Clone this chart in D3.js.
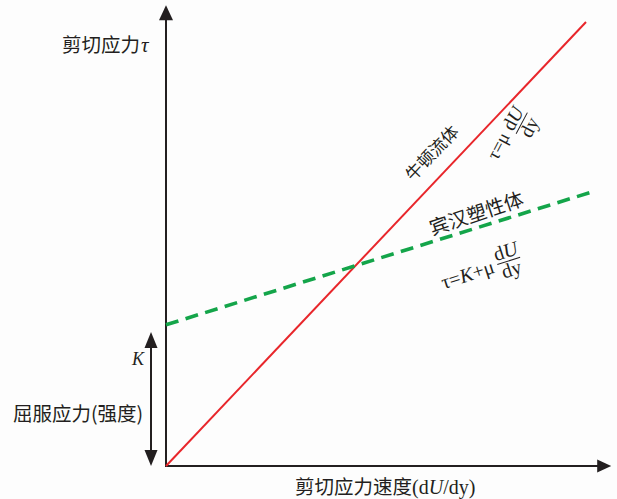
<!DOCTYPE html>
<html><head><meta charset="utf-8">
<script src="https://cdn.jsdelivr.net/npm/d3@7"></script>
<style>body{margin:0;background:#fdfdfd} svg{display:block}</style>
</head><body><svg id="c" width="617" height="499"></svg>
<script>
// ---- data ----
const newtonX = [0, 10];
const newtonY = [0, 10];
const binghamX = [0, 10.2];
const binghamY = [3.18, 6.19];
const yieldRange = [0, 3.02];
const axisMaxX = 10.6;
const axisMaxY = 10.38;
const yLabel = ["剪切应力", "τ"];
const xLabel = ["剪切应力速度", "(d", "U", "/dy)"];
const yieldLabel = "屈服应力(强度)";
const kLabel = "K";
const newtonLabel = "牛顿流体";
const binghamLabel = "宾汉塑性体";
const newtonFormula = ["τ=μ"];
const binghamFormula = ["τ=", "K", "+μ"];
const fracNum = ["d", "U"];
const fracDen = "dy";
// annotation anchors (data coords)
const newtonLabelAt = [6.31, 7.07];
const newtonFormulaAt = [8.47, 7.72];
const binghamLabelAt = [7.38, 5.72];
const binghamFormulaAt = [8.16, 4.62];

const CJK = "'Noto Sans CJK SC','Noto Sans CJK JP',sans-serif";
const SERIF = "'Liberation Serif','DejaVu Serif',serif";
const INK = "#231f20";

const svg = d3.select("#c");
const x = d3.scaleLinear().domain([0, 10]).range([166, 586]);
const y = d3.scaleLinear().domain([0, 10]).range([466, 22]);

svg.append("rect").attr("width", 617).attr("height", 499).attr("fill", "#fdfdfd");

// ---- axes ----
const x0 = x(0), y0 = y(0);
const yTop = y(axisMaxY), xEnd = x(axisMaxX);
svg.append("line").attr("x1", x0).attr("y1", y0 + 1).attr("x2", x0).attr("y2", yTop + 12)
  .attr("stroke", INK).attr("stroke-width", 2);
svg.append("path").attr("d", `M${x0},${yTop} L${x0 - 7},${yTop + 15} L${x0 + 7},${yTop + 15} Z`).attr("fill", INK);
svg.append("line").attr("x1", x0 - 1).attr("y1", y0).attr("x2", xEnd - 12).attr("y2", y0)
  .attr("stroke", INK).attr("stroke-width", 2);
svg.append("path").attr("d", `M${xEnd},${y0} L${xEnd - 14},${y0 - 6.5} L${xEnd - 14},${y0 + 6.5} Z`).attr("fill", INK);

// ---- yield double arrow ----
const ax = x0 - 15;
const ka = y(yieldRange[1]), kb = y(yieldRange[0]);
svg.append("line").attr("x1", ax).attr("y1", ka + 10).attr("x2", ax).attr("y2", kb - 10)
  .attr("stroke", INK).attr("stroke-width", 2);
svg.append("path").attr("d", `M${ax},${ka} L${ax - 6.5},${ka + 16} L${ax + 6.5},${ka + 16} Z`).attr("fill", INK);
svg.append("path").attr("d", `M${ax},${kb} L${ax - 6.5},${kb - 16} L${ax + 6.5},${kb - 16} Z`).attr("fill", INK);

// ---- lines ----
const line = d3.line().x(d => x(d[0])).y(d => y(d[1]));
svg.append("path").datum(newtonX.map((v, i) => [v, newtonY[i]])).attr("d", line)
  .attr("fill", "none").attr("stroke", "#e8262b").attr("stroke-width", 2);
svg.append("path").datum(binghamX.map((v, i) => [v, binghamY[i]])).attr("d", line)
  .attr("fill", "none").attr("stroke", "#14a54a").attr("stroke-width", 3.6)
  .attr("stroke-dasharray", "13,7.5");

// ---- axis labels ----
const yl = svg.append("text").attr("x", 62).attr("y", 52).attr("fill", INK).attr("font-size", 19.5);
yl.append("tspan").attr("font-family", CJK).text(yLabel[0]);
yl.append("tspan").attr("font-family", SERIF).attr("font-style", "italic").attr("font-size", 21).attr("dx", 1).text(yLabel[1]);

const xl = svg.append("text").attr("x", 295).attr("y", 494).attr("fill", INK).attr("font-size", 19.5);
xl.append("tspan").attr("font-family", CJK).text(xLabel[0]);
xl.append("tspan").attr("font-family", SERIF).attr("font-size", 20).text(xLabel[1]);
xl.append("tspan").attr("font-family", SERIF).attr("font-size", 20).attr("font-style", "italic").text(xLabel[2]);
xl.append("tspan").attr("font-family", SERIF).attr("font-size", 20).text(xLabel[3]);

svg.append("text").attr("x", 13).attr("y", 421).attr("fill", INK).attr("font-size", 19.5)
  .attr("font-family", CJK).text(yieldLabel);
svg.append("text").attr("x", ax - 13).attr("y", 365).attr("text-anchor", "middle").attr("fill", INK)
  .attr("font-size", 18).attr("font-family", SERIF).attr("font-style", "italic").text(kLabel);

// ---- annotations ----
const ang = (xs, ys) => Math.atan2(y(ys[1]) - y(ys[0]), x(xs[1]) - x(xs[0])) * 180 / Math.PI;
const newtonAng = ang(newtonX, newtonY);
const binghamAng = ang(binghamX, binghamY);

svg.append("text").attr("transform", `translate(${x(newtonLabelAt[0])},${y(newtonLabelAt[1])}) rotate(${newtonAng})`)
  .attr("text-anchor", "middle").attr("dominant-baseline", "central").attr("fill", INK)
  .attr("font-size", 17).attr("font-family", CJK).text(newtonLabel);
svg.append("text").attr("transform", `translate(${x(binghamLabelAt[0])},${y(binghamLabelAt[1])}) rotate(${binghamAng - 1})`)
  .attr("text-anchor", "middle").attr("dominant-baseline", "central").attr("fill", INK)
  .attr("font-size", 19.5).attr("font-family", CJK).text(binghamLabel);

function fraction(g, fs, halfW, numY, denY) {
  g.append("line").attr("x1", -halfW).attr("x2", halfW).attr("y1", 0).attr("y2", 0)
    .attr("stroke", INK).attr("stroke-width", 1);
  const n = g.append("text").attr("x", 0).attr("y", numY).attr("text-anchor", "middle")
    .attr("font-family", SERIF).attr("font-size", fs).attr("fill", INK);
  n.append("tspan").text(fracNum[0]);
  n.append("tspan").attr("font-style", "italic").text(fracNum[1]);
  g.append("text").attr("x", 0).attr("y", denY).attr("text-anchor", "middle")
    .attr("font-family", SERIF).attr("font-size", fs).attr("fill", INK).text(fracDen);
}

// Newton formula
const gN = svg.append("g").attr("transform", `translate(${x(newtonFormulaAt[0])},${y(newtonFormulaAt[1])}) rotate(-62)`);
gN.append("text").attr("x", -17).attr("y", -4).attr("text-anchor", "end")
  .attr("font-family", SERIF).attr("font-size", 18.5).attr("fill", INK).text(newtonFormula[0]);
fraction(gN, 19.5, 12, -3.5, 15);

// Bingham formula
const gB = svg.append("g").attr("transform", `translate(${x(binghamFormulaAt[0])},${y(binghamFormulaAt[1])}) rotate(-18)`);
const bt = gB.append("text").attr("x", -16).attr("y", 7).attr("text-anchor", "end")
  .attr("font-family", SERIF).attr("font-size", 20).attr("fill", INK);
bt.append("tspan").text(binghamFormula[0]);
bt.append("tspan").attr("font-style", "italic").text(binghamFormula[1]);
bt.append("tspan").text(binghamFormula[2]);
fraction(gB, 20, 12, -3.5, 15.5);
</script></body></html>
